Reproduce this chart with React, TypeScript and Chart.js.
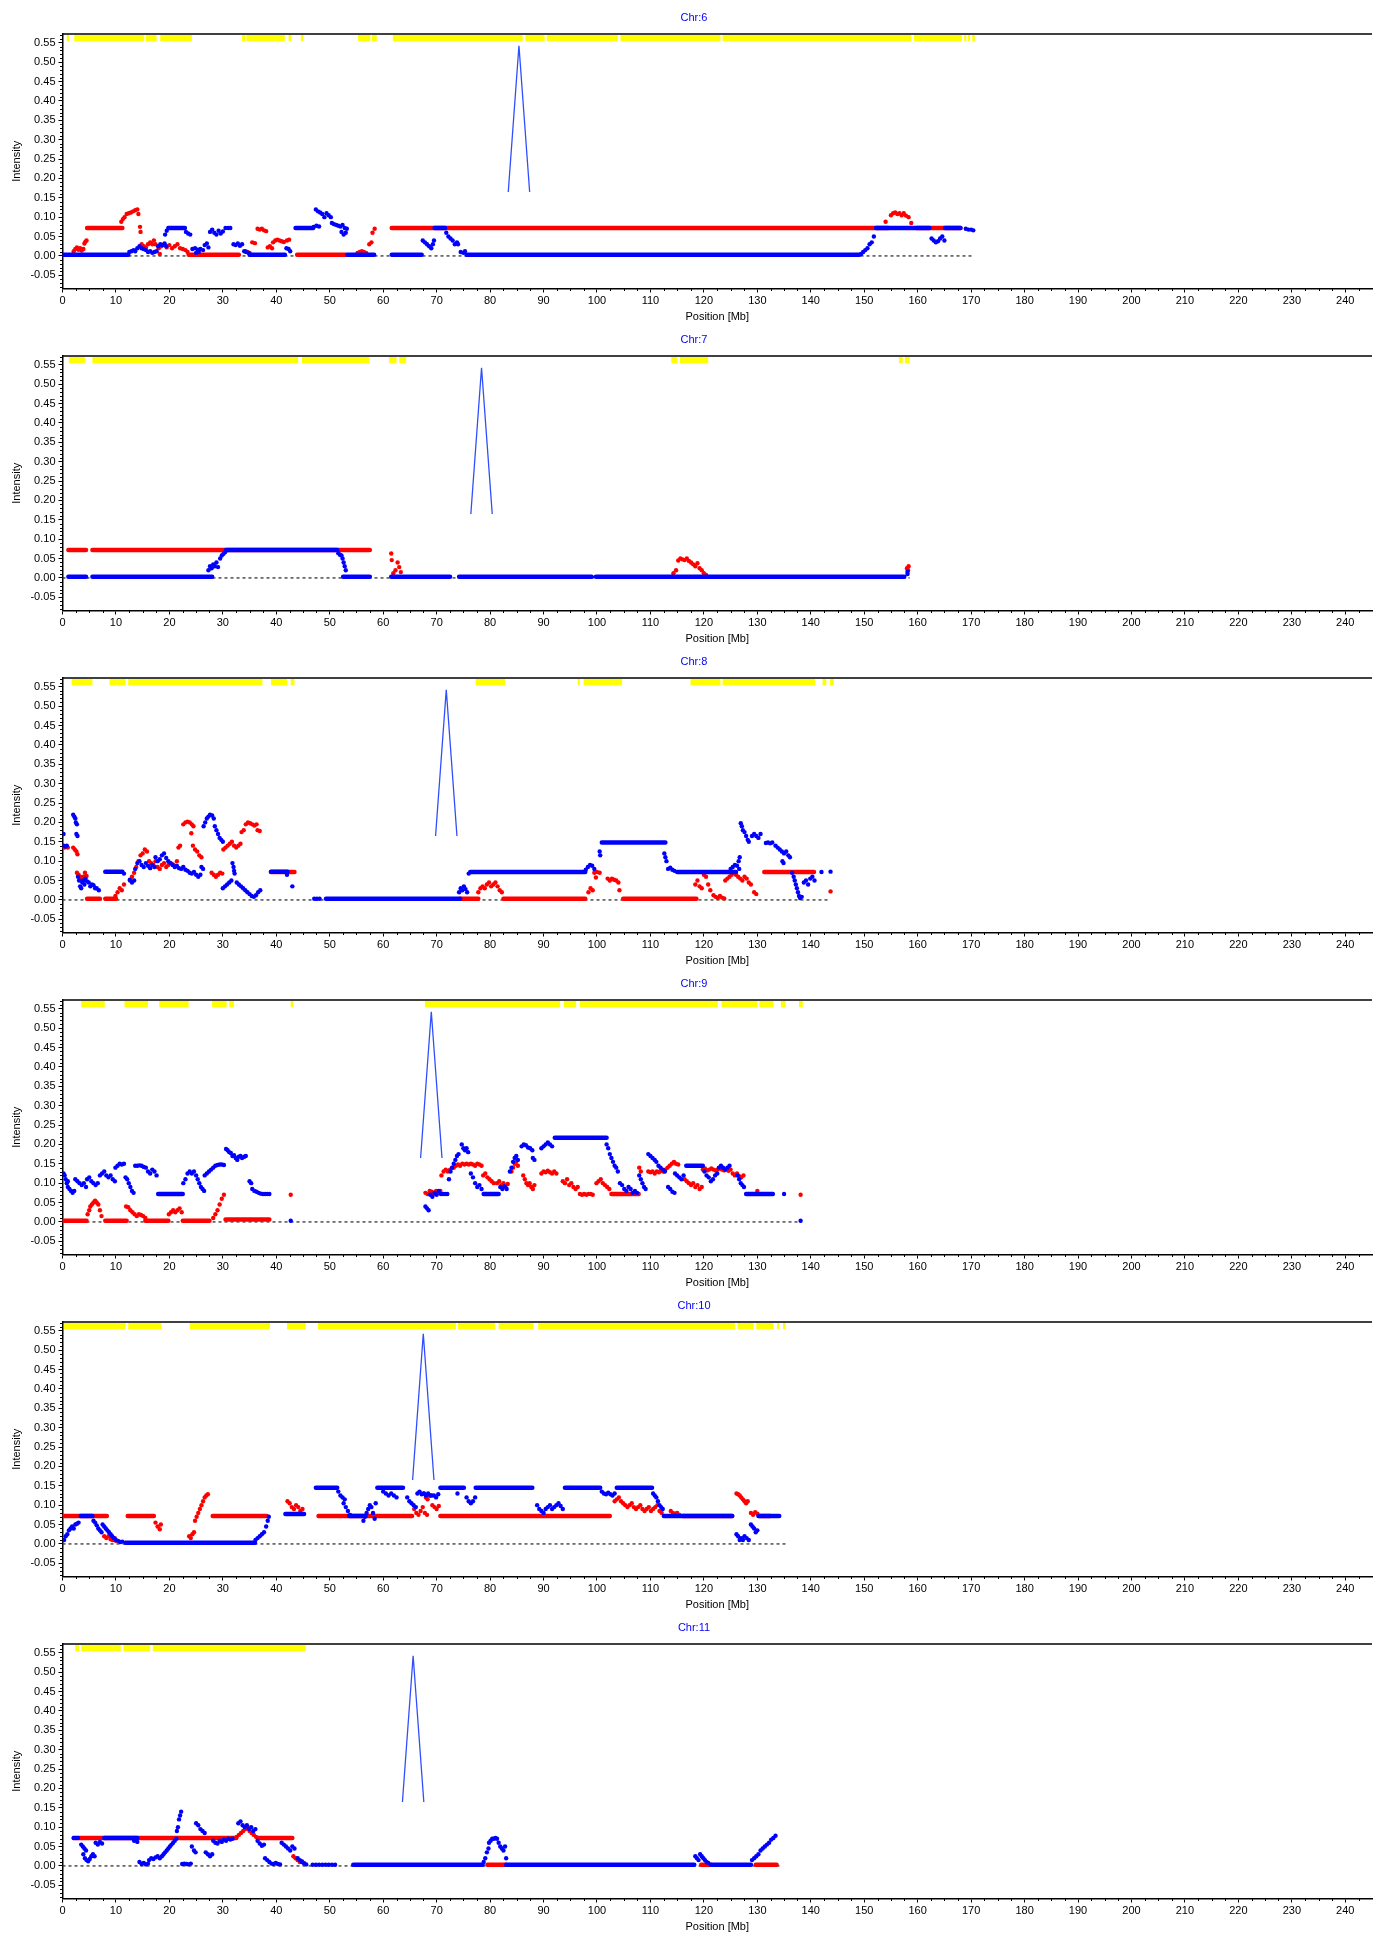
import React, { useEffect, useRef } from 'react';
import { Chart, registerables } from 'chart.js';

Chart.register(...registerables);

type Pt = [number, number];
type Seg = [number, number];
type Run = [number, number, number];

// Copy-number levels used by the flat segments
const L0 = 0.003;
const L1 = 0.072;
const L2 = 0.145;
const L3 = 0.217;

const X_TICKS = [0, 10, 20, 30, 40, 50, 60, 70, 80, 90, 100, 110, 120, 130, 140, 150, 160, 170, 180, 190, 200, 210, 220, 230, 240];
const Y_TICKS = [-0.05, 0, 0.05, 0.1, 0.15, 0.2, 0.25, 0.3, 0.35, 0.4, 0.45, 0.5, 0.55];
const X_MAX = 245;
const Y_MIN = -0.084;
const Y_MAX = 0.5725;
const BAND_Y = 0.562;

// ---------------- Chr 6 ----------------
const chr6Length = 170.5;
const chr6Centromere: Pt[] = [[83.4, 0.165], [85.4, 0.542], [87.4, 0.165]];
const chr6Bands: Seg[] = [[0.8, 1.2], [2.2, 15.3], [15.6, 17.6], [18.3, 24.2], [33.6, 34.2], [34.4, 41.6], [42.3, 42.8], [44.6, 45.1], [55.3, 57.6], [57.9, 58.8], [61.8, 86.1], [86.6, 90.2], [90.6, 103.9], [104.4, 123.1], [123.5, 158.8], [159.3, 168.3], [168.7, 169.1], [169.4, 169.8], [170.2, 170.7]];
const chr6RedRuns: Run[] = [[4.6, 11.2, L1], [23.6, 33.0, L0], [43.9, 53.0, L0], [61.6, 154.5, L1], [159.8, 168.0, L1]];
const chr6RedDots: Pt[] = [
  [2.1, 0.012], [2.4, 0.018], [2.7, 0.022], [3.0, 0.016], [3.3, 0.02], [3.6, 0.014], [3.9, 0.018], [4.1, 0.032], [4.3, 0.037], [4.5, 0.04],
  [11.0, 0.088], [11.3, 0.095], [11.6, 0.1], [12.0, 0.108], [12.4, 0.11], [12.8, 0.112], [13.2, 0.115], [13.6, 0.118], [14.0, 0.12], [14.2, 0.108],
  [14.5, 0.075], [14.6, 0.062], [14.8, 0.03], [15.2, 0.025], [15.6, 0.022], [16.0, 0.03], [16.4, 0.035], [16.8, 0.03], [17.1, 0.04], [17.4, 0.03],
  [18.0, 0.02], [18.2, 0.005], [18.5, 0.025], [19.0, 0.03], [19.5, 0.022], [20.0, 0.028], [20.5, 0.02], [21.0, 0.025], [21.5, 0.03], [22.0, 0.02], [22.5, 0.018], [23.0, 0.015], [23.4, 0.01],
  [34.2, 0.012], [34.6, 0.01], [35.0, 0.008], [35.5, 0.035], [36.0, 0.033], [36.5, 0.07], [36.9, 0.068], [37.3, 0.07], [37.7, 0.066], [38.1, 0.064],
  [38.4, 0.022], [38.8, 0.025], [39.2, 0.02], [39.4, 0.035], [39.8, 0.04], [40.2, 0.042], [40.6, 0.04], [41.0, 0.038], [41.4, 0.036], [42.0, 0.04], [42.4, 0.042],
  [55.2, 0.008], [55.6, 0.01], [56.0, 0.012], [56.4, 0.01], [56.8, 0.008], [57.4, 0.03], [57.8, 0.035], [58.0, 0.06], [58.4, 0.07],
  [154.0, 0.088], [155.0, 0.105], [155.4, 0.11], [155.8, 0.112], [156.2, 0.108], [156.6, 0.11], [157.0, 0.105], [157.4, 0.11], [157.8, 0.104], [158.3, 0.1], [158.8, 0.085],
];
const chr6BlueRuns: Run[] = [[0, 12.3, L0], [19.8, 22.9, L1], [35.0, 41.6, L0], [43.6, 46.9, L1], [53.3, 58.3, L0], [61.6, 67.2, L0], [69.6, 71.6, L1], [75.6, 149.1, L0], [152.2, 162.2, L1], [165.1, 168.0, L1]];
const chr6BlueDots: Pt[] = [
  [12.5, 0.01], [12.9, 0.012], [13.3, 0.015], [13.6, 0.012], [14.0, 0.02], [14.4, 0.025], [14.8, 0.02], [15.2, 0.018], [15.6, 0.015], [16.0, 0.01], [16.4, 0.012], [16.8, 0.008], [17.2, 0.01], [17.6, 0.012],
  [17.9, 0.025], [18.3, 0.03], [18.7, 0.028], [19.1, 0.032], [19.4, 0.025], [19.2, 0.055], [19.5, 0.065],
  [23.1, 0.062], [23.5, 0.058], [23.9, 0.055], [24.3, 0.018], [24.8, 0.02], [25.3, 0.016], [25.8, 0.018], [26.3, 0.015], [25.0, 0.008], [25.5, 0.01],
  [26.6, 0.028], [27.0, 0.032], [27.3, 0.022], [27.6, 0.062], [28.0, 0.068], [28.4, 0.06], [28.8, 0.055], [29.2, 0.065], [29.6, 0.058], [30.0, 0.063],
  [30.5, 0.072], [31.0, 0.072], [31.4, 0.072], [32.0, 0.03], [32.4, 0.028], [32.8, 0.032], [33.2, 0.026], [33.6, 0.03], [34.0, 0.012], [34.4, 0.01], [34.8, 0.008],
  [41.9, 0.02], [42.3, 0.018], [42.6, 0.012], [47.0, 0.075], [47.5, 0.078], [48.0, 0.076],
  [47.4, 0.12], [47.8, 0.115], [48.2, 0.112], [48.6, 0.108], [49.0, 0.1], [49.4, 0.11], [49.8, 0.105], [50.2, 0.1],
  [50.4, 0.085], [50.8, 0.082], [51.2, 0.08], [51.6, 0.078], [52.0, 0.076], [52.4, 0.08], [52.8, 0.072], [53.2, 0.07], [52.2, 0.062], [52.6, 0.055], [53.0, 0.06],
  [67.4, 0.04], [67.8, 0.035], [68.2, 0.03], [68.6, 0.025], [69.0, 0.02], [69.3, 0.03], [69.5, 0.04],
  [71.8, 0.06], [72.2, 0.05], [72.6, 0.045], [73.0, 0.04], [73.4, 0.03], [73.8, 0.035], [74.0, 0.03], [74.5, 0.01], [75.0, 0.008], [75.3, 0.012],
  [149.4, 0.005], [149.8, 0.01], [150.2, 0.015], [150.6, 0.02], [151.0, 0.03], [151.4, 0.035], [151.8, 0.05],
  [162.6, 0.045], [163.0, 0.04], [163.4, 0.035], [163.8, 0.038], [164.2, 0.045], [164.6, 0.05], [165.0, 0.04],
  [169.0, 0.07], [169.5, 0.068], [170.0, 0.068], [170.4, 0.066],
];

// ---------------- Chr 7 ----------------
const chr7Length = 158.5;
const chr7Centromere: Pt[] = [[76.4, 0.165], [78.4, 0.542], [80.4, 0.165]];
const chr7Bands: Seg[] = [[1.2, 4.2], [5.6, 44.1], [44.8, 57.4], [61.1, 62.5], [63.0, 64.3], [113.9, 115.0], [115.5, 120.8], [156.5, 157.2], [157.6, 158.5]];
const chr7RedRuns: Run[] = [[1.1, 4.4, L1], [5.6, 57.5, L1]];
const chr7RedDots: Pt[] = [
  [61.5, 0.063], [61.6, 0.046], [61.9, 0.012], [62.3, 0.02], [62.7, 0.04], [63.0, 0.028], [63.3, 0.015],
  [114.3, 0.012], [114.8, 0.02], [115.2, 0.045], [115.6, 0.05], [116.0, 0.048], [116.4, 0.046], [116.8, 0.05], [117.2, 0.044], [117.6, 0.04], [118.0, 0.035], [118.4, 0.03], [118.8, 0.038], [119.2, 0.025], [119.6, 0.02], [120.0, 0.012], [120.4, 0.008],
  [158.0, 0.025], [158.2, 0.02], [158.3, 0.03],
];
const chr7BlueRuns: Run[] = [[1.1, 4.4, L0], [5.6, 28.0, L0], [30.6, 51.4, L1], [52.5, 57.5, L0], [61.5, 72.5, L0], [74.2, 99.0, L0], [99.8, 157.5, L0]];
const chr7BlueDots: Pt[] = [
  [27.3, 0.02], [27.6, 0.03], [27.9, 0.025], [28.2, 0.035], [28.5, 0.03], [28.8, 0.04], [29.1, 0.028], [29.5, 0.05], [29.8, 0.058], [30.1, 0.062], [30.4, 0.066],
  [51.6, 0.064], [51.9, 0.06], [52.2, 0.058], [52.4, 0.05], [52.6, 0.04], [52.8, 0.03], [53.0, 0.02],
  [158.1, 0.01], [158.1, 0.016],
];

// ---------------- Chr 8 ----------------
const chr8Length = 143.7;
const chr8Centromere: Pt[] = [[69.8, 0.165], [71.8, 0.542], [73.8, 0.165]];
const chr8Bands: Seg[] = [[1.7, 5.6], [8.8, 11.8], [12.3, 37.4], [39.0, 42.0], [42.7, 43.4], [77.3, 82.8], [96.4, 96.8], [97.5, 104.7], [117.5, 123.1], [123.5, 140.8], [142.2, 142.9], [143.6, 144.3]];
const chr8RedRuns: Run[] = [[4.6, 7.0, L0], [8.0, 10.0, L0], [39.0, 43.4, L1], [74.4, 77.8, L0], [82.5, 97.8, L0], [104.9, 118.6, L0], [131.3, 140.6, L1]];
const chr8RedDots: Pt[] = [
  [0.1, 0.138], [0.4, 0.135], [0.7, 0.138], [1.0, 0.135], [2.0, 0.135], [2.3, 0.13], [2.6, 0.125], [2.8, 0.118],
  [2.7, 0.07], [3.0, 0.065], [3.3, 0.06], [3.6, 0.055], [3.9, 0.06], [4.2, 0.07], [4.5, 0.062],
  [9.9, 0.01], [10.3, 0.02], [10.7, 0.03], [11.1, 0.025], [11.5, 0.04],
  [12.6, 0.05], [13.0, 0.06], [13.4, 0.07], [13.8, 0.085], [14.2, 0.1], [14.6, 0.115], [15.0, 0.12], [15.4, 0.13], [15.8, 0.125],
  [16.2, 0.1], [16.6, 0.095], [17.0, 0.09], [17.4, 0.1], [17.8, 0.085], [18.2, 0.08], [18.6, 0.09], [19.0, 0.095], [19.4, 0.085], [19.8, 0.09], [20.2, 0.095], [20.6, 0.092], [21.0, 0.088], [21.4, 0.1],
  [21.7, 0.135], [22.0, 0.14], [22.6, 0.195], [23.0, 0.2], [23.4, 0.202], [23.8, 0.2], [24.2, 0.195], [24.5, 0.19], [24.1, 0.172],
  [24.4, 0.14], [24.8, 0.13], [25.2, 0.125], [25.6, 0.115], [26.0, 0.11],
  [27.9, 0.07], [28.3, 0.065], [28.7, 0.06], [29.1, 0.065], [29.5, 0.07], [29.9, 0.068],
  [30.1, 0.13], [30.5, 0.135], [30.9, 0.14], [31.3, 0.145], [31.7, 0.15], [32.1, 0.14], [32.5, 0.135], [32.9, 0.14], [33.3, 0.145],
  [33.5, 0.175], [33.9, 0.18], [34.3, 0.195], [34.7, 0.2], [35.1, 0.198], [35.5, 0.195], [35.9, 0.192], [36.3, 0.195], [36.5, 0.18], [36.9, 0.178],
  [77.8, 0.02], [78.2, 0.03], [78.6, 0.035], [79.0, 0.03], [79.4, 0.04], [79.8, 0.045], [80.2, 0.035], [80.6, 0.04], [81.0, 0.045], [81.4, 0.035], [81.8, 0.025], [82.2, 0.02],
  [98.4, 0.02], [98.8, 0.03], [99.2, 0.025], [99.5, 0.07], [100.0, 0.072], [100.5, 0.07], [99.8, 0.058],
  [102.0, 0.055], [102.4, 0.05], [102.8, 0.055], [103.2, 0.052], [103.6, 0.05], [104.0, 0.045], [104.2, 0.025],
  [118.4, 0.04], [118.8, 0.05], [119.2, 0.035], [119.6, 0.03], [120.0, 0.065], [120.4, 0.06], [120.8, 0.04], [121.2, 0.025],
  [121.8, 0.012], [122.2, 0.008], [122.6, 0.005], [123.0, 0.01], [123.4, 0.006], [123.8, 0.004],
  [124.0, 0.05], [124.4, 0.055], [124.8, 0.06], [125.2, 0.065], [125.6, 0.07], [126.0, 0.065], [126.4, 0.06], [126.8, 0.055], [127.2, 0.05], [127.6, 0.06], [128.0, 0.055], [128.4, 0.045], [128.8, 0.04],
  [129.4, 0.02], [129.8, 0.015], [143.7, 0.022],
];
const chr8BlueRuns: Run[] = [[8.0, 11.2, 0.073], [39.0, 42.1, 0.073], [49.3, 74.4, L0], [76.3, 97.8, L1], [100.9, 112.8, 0.148], [115.0, 126.0, L1]];
const chr8BlueDots: Pt[] = [
  [0.2, 0.14], [0.5, 0.138], [0.8, 0.14], [0.2, 0.17],
  [2.0, 0.22], [2.2, 0.215], [2.4, 0.21], [2.5, 0.2], [2.7, 0.195], [2.6, 0.17], [2.8, 0.165],
  [2.9, 0.06], [3.1, 0.05], [3.3, 0.035], [3.5, 0.03], [3.7, 0.045], [3.9, 0.05], [4.1, 0.04], [4.3, 0.055], [4.6, 0.048], [4.9, 0.045], [5.2, 0.035], [5.5, 0.04], [5.8, 0.038], [6.1, 0.03], [6.4, 0.03], [6.8, 0.025],
  [11.5, 0.068], [12.6, 0.052], [13.0, 0.045], [13.4, 0.05],
  [13.6, 0.08], [14.0, 0.095], [14.4, 0.1], [14.8, 0.09], [15.2, 0.085], [15.6, 0.095], [16.0, 0.088], [16.4, 0.082], [16.8, 0.09], [17.2, 0.085],
  [17.4, 0.11], [17.8, 0.1], [18.2, 0.105], [18.6, 0.115], [19.0, 0.12], [19.4, 0.108], [19.8, 0.1], [20.2, 0.095],
  [20.6, 0.09], [21.0, 0.085], [21.4, 0.088], [21.8, 0.082], [22.2, 0.08], [22.6, 0.085], [23.0, 0.078], [23.4, 0.075], [23.8, 0.07], [24.2, 0.068], [24.6, 0.072], [25.0, 0.065], [25.4, 0.06], [25.8, 0.065],
  [26.0, 0.085], [26.3, 0.08],
  [26.4, 0.19], [26.7, 0.2], [27.0, 0.21], [27.3, 0.215], [27.6, 0.22], [28.0, 0.218], [28.3, 0.21],
  [28.5, 0.19], [28.8, 0.18], [29.1, 0.17], [29.4, 0.16], [29.7, 0.155], [30.0, 0.15],
  [31.8, 0.095], [32.0, 0.085], [32.1, 0.075], [32.2, 0.068],
  [30.0, 0.03], [30.4, 0.035], [30.8, 0.04], [31.2, 0.045], [31.6, 0.05],
  [32.6, 0.045], [33.0, 0.04], [33.4, 0.035], [33.8, 0.03], [34.2, 0.025], [34.6, 0.02], [35.0, 0.015], [35.4, 0.01], [35.8, 0.008], [36.2, 0.012], [36.6, 0.02], [37.0, 0.025],
  [42.0, 0.065], [43.0, 0.035], [47.1, 0.003], [47.6, 0.003], [48.1, 0.003],
  [74.2, 0.02], [74.5, 0.03], [74.8, 0.025], [75.1, 0.035], [75.4, 0.028], [75.7, 0.02], [76.0, 0.068],
  [97.9, 0.078], [98.3, 0.085], [98.7, 0.09], [99.1, 0.088], [99.5, 0.08], [100.5, 0.125], [100.6, 0.115],
  [112.6, 0.12], [112.8, 0.11], [113.0, 0.1], [113.3, 0.08], [113.7, 0.083], [114.1, 0.078], [114.5, 0.075],
  [125.0, 0.08], [125.4, 0.085], [125.8, 0.09], [126.2, 0.088], [126.6, 0.08], [126.5, 0.1], [126.7, 0.11],
  [126.9, 0.198], [127.1, 0.19], [127.3, 0.18], [127.6, 0.175], [127.9, 0.165], [128.2, 0.155], [128.4, 0.15],
  [129.0, 0.165], [129.4, 0.17], [129.8, 0.165], [130.2, 0.16], [130.6, 0.17],
  [131.6, 0.147], [132.0, 0.148], [132.4, 0.146], [132.8, 0.148],
  [133.4, 0.14], [133.8, 0.135], [134.2, 0.13], [134.6, 0.125], [135.0, 0.12], [135.4, 0.125], [135.8, 0.115], [136.1, 0.11], [134.7, 0.1], [134.9, 0.095],
  [136.5, 0.07], [136.8, 0.06], [137.0, 0.05], [137.2, 0.04], [137.4, 0.03], [137.6, 0.02], [137.8, 0.01], [138.0, 0.005], [138.3, 0.008],
  [138.7, 0.045], [139.1, 0.05], [139.5, 0.04], [139.9, 0.055], [140.3, 0.06], [140.7, 0.05],
  [142.0, 0.072], [143.7, 0.073],
];

// ---------------- Chr 9 ----------------
const chr9Length = 138.3;
const chr9Centromere: Pt[] = [[67.0, 0.165], [69.0, 0.542], [71.0, 0.165]];
const chr9Bands: Seg[] = [[3.5, 7.9], [11.6, 16.0], [18.1, 23.6], [28.0, 30.7], [31.2, 32.1], [42.7, 43.2], [67.8, 93.1], [93.8, 96.1], [96.8, 122.6], [123.3, 130.0], [130.4, 133.0], [134.4, 135.3], [137.8, 138.5]];
const chr9RedRuns: Run[] = [[0.2, 4.5, L0], [8.0, 12.0, L0], [15.5, 19.8, L0], [22.5, 27.5, L0], [30.5, 38.7, 0.006], [102.7, 107.8, L1]];
const chr9RedDots: Pt[] = [
  [4.7, 0.02], [5.0, 0.03], [5.2, 0.04], [5.5, 0.045], [5.8, 0.05], [6.1, 0.055], [6.4, 0.05], [6.7, 0.045], [7.0, 0.03], [7.3, 0.015],
  [11.9, 0.04], [12.3, 0.038], [12.7, 0.03], [13.1, 0.025], [13.5, 0.02], [13.9, 0.015], [14.3, 0.02], [14.7, 0.018], [15.1, 0.015], [15.5, 0.01],
  [19.9, 0.02], [20.3, 0.025], [20.7, 0.03], [21.1, 0.025], [21.5, 0.03], [21.9, 0.035], [22.3, 0.025],
  [28.2, 0.01], [28.6, 0.02], [29.0, 0.03], [29.4, 0.045], [29.8, 0.06], [30.2, 0.07], [42.7, 0.07],
  [67.9, 0.075], [68.3, 0.072], [68.7, 0.08], [69.1, 0.078], [69.5, 0.072], [69.9, 0.08], [70.3, 0.075], [70.7, 0.08],
  [70.9, 0.12], [71.3, 0.13], [71.7, 0.135], [72.1, 0.13], [72.5, 0.135], [72.9, 0.14],
  [73.2, 0.14], [73.6, 0.145], [74.0, 0.148], [74.4, 0.145], [74.8, 0.15], [75.2, 0.148], [75.6, 0.15], [76.0, 0.148], [76.4, 0.15], [76.8, 0.148], [77.2, 0.145], [77.6, 0.15], [78.0, 0.148], [78.4, 0.145],
  [78.7, 0.12], [79.1, 0.125], [79.5, 0.115], [79.9, 0.11], [80.3, 0.105], [80.7, 0.1],
  [81.3, 0.1], [81.7, 0.105], [82.1, 0.095], [82.5, 0.1], [82.9, 0.09], [83.3, 0.098],
  [84.0, 0.13], [84.3, 0.14], [84.6, 0.15], [84.9, 0.155], [85.2, 0.145],
  [86.2, 0.12], [86.5, 0.11], [86.8, 0.1], [87.1, 0.095], [87.4, 0.1], [87.7, 0.09], [88.0, 0.085], [88.3, 0.095],
  [89.6, 0.125], [90.0, 0.13], [90.4, 0.128], [90.8, 0.132], [91.2, 0.128], [91.6, 0.125], [92.0, 0.13], [92.4, 0.125],
  [93.6, 0.105], [94.0, 0.1], [94.4, 0.11], [94.8, 0.095], [95.2, 0.1], [95.6, 0.09], [96.0, 0.085], [96.4, 0.09],
  [96.8, 0.072], [97.2, 0.07], [97.6, 0.072], [98.0, 0.07], [98.4, 0.072], [98.8, 0.072], [99.2, 0.07],
  [99.9, 0.1], [100.3, 0.105], [100.7, 0.11], [101.1, 0.1], [101.5, 0.095], [101.9, 0.09], [102.3, 0.085],
  [107.9, 0.14], [108.2, 0.13],
  [109.6, 0.13], [110.0, 0.128], [110.4, 0.13], [110.8, 0.125], [111.2, 0.13], [111.6, 0.128], [112.0, 0.132], [112.4, 0.13], [112.8, 0.135], [113.2, 0.14], [113.6, 0.145], [114.0, 0.15], [114.4, 0.155], [114.8, 0.15], [115.2, 0.148],
  [116.4, 0.11], [116.8, 0.105], [117.2, 0.1], [117.6, 0.095], [118.0, 0.1], [118.4, 0.09], [118.8, 0.095], [119.2, 0.085], [119.6, 0.09],
  [119.8, 0.135], [120.2, 0.138], [120.6, 0.133], [121.0, 0.135], [121.4, 0.138], [121.8, 0.135], [122.2, 0.133], [122.6, 0.135], [123.0, 0.138], [123.4, 0.135], [123.8, 0.133], [124.2, 0.135], [124.6, 0.132], [125.0, 0.135],
  [125.4, 0.125], [125.8, 0.12], [126.2, 0.125], [126.6, 0.118], [127.0, 0.115], [127.4, 0.12],
  [130.0, 0.08], [138.1, 0.07],
];
const chr9BlueRuns: Run[] = [[17.9, 22.5, L1], [78.8, 81.6, L1], [92.1, 101.8, L3], [116.7, 119.8, L2], [127.9, 132.9, L1]];
const chr9BlueDots: Pt[] = [
  [0.2, 0.125], [0.4, 0.12], [0.6, 0.11], [0.8, 0.1], [1.0, 0.105], [1.0, 0.09], [1.3, 0.085], [1.6, 0.08], [1.9, 0.075], [2.2, 0.08],
  [2.4, 0.11], [2.8, 0.105], [3.2, 0.1], [3.6, 0.095], [4.0, 0.1], [4.4, 0.09],
  [4.6, 0.11], [5.0, 0.115], [5.4, 0.105], [5.8, 0.1], [6.2, 0.095], [6.6, 0.1],
  [7.0, 0.12], [7.4, 0.125], [7.8, 0.13], [8.2, 0.12], [8.6, 0.115], [9.0, 0.12], [9.4, 0.11], [9.8, 0.105],
  [9.9, 0.14], [10.3, 0.145], [10.7, 0.15], [11.1, 0.148], [11.5, 0.15],
  [11.8, 0.115], [12.1, 0.11], [12.4, 0.1], [12.7, 0.09], [13.0, 0.08], [13.3, 0.075],
  [13.6, 0.145], [14.0, 0.145], [14.4, 0.146], [14.8, 0.145], [15.2, 0.142], [15.6, 0.14],
  [16.0, 0.13], [16.4, 0.125], [16.8, 0.135], [17.2, 0.13], [17.6, 0.12],
  [22.6, 0.1], [23.0, 0.11], [23.4, 0.125], [23.8, 0.13], [24.2, 0.125], [24.6, 0.13], [25.0, 0.12],
  [25.3, 0.11], [25.6, 0.1], [25.9, 0.09], [26.2, 0.085], [26.5, 0.08],
  [26.6, 0.12], [27.0, 0.125], [27.4, 0.13], [27.8, 0.135], [28.2, 0.14], [28.6, 0.145], [29.0, 0.147], [29.4, 0.148], [29.8, 0.148], [30.2, 0.147],
  [30.6, 0.188], [30.9, 0.185], [31.2, 0.18], [31.5, 0.178], [31.8, 0.17], [32.1, 0.172], [32.4, 0.165], [32.7, 0.16], [33.0, 0.168], [33.3, 0.17], [33.6, 0.165], [34.0, 0.168], [34.3, 0.17],
  [35.0, 0.105], [35.3, 0.1], [35.5, 0.085], [35.9, 0.08], [36.3, 0.078], [36.7, 0.075], [37.1, 0.073], [37.5, 0.072], [37.9, 0.072], [38.3, 0.072], [38.7, 0.072],
  [42.7, 0.003],
  [67.9, 0.04], [68.2, 0.035], [68.5, 0.03],
  [68.8, 0.07], [69.2, 0.065], [69.6, 0.075], [70.0, 0.07], [70.4, 0.08], [70.8, 0.072], [71.2, 0.072], [71.6, 0.072], [72.0, 0.072], [72.3, 0.11],
  [72.6, 0.13], [72.9, 0.14], [73.2, 0.15], [73.5, 0.16], [73.8, 0.17], [74.1, 0.175],
  [74.7, 0.2], [75.0, 0.19], [75.3, 0.185], [75.6, 0.19], [75.9, 0.18],
  [76.4, 0.125], [76.8, 0.115], [77.2, 0.1], [77.6, 0.09], [78.0, 0.095], [78.4, 0.085],
  [81.9, 0.09], [82.3, 0.085], [82.7, 0.092], [83.1, 0.085],
  [83.7, 0.13], [84.0, 0.14], [84.3, 0.155], [84.6, 0.165], [84.9, 0.17], [85.2, 0.16],
  [85.9, 0.195], [86.3, 0.2], [86.7, 0.198], [87.1, 0.192], [87.5, 0.19], [87.9, 0.185], [88.0, 0.165], [88.3, 0.16],
  [89.6, 0.19], [90.0, 0.195], [90.4, 0.2], [90.8, 0.205], [91.2, 0.2], [91.6, 0.195],
  [101.8, 0.2], [102.1, 0.19], [102.4, 0.175], [102.7, 0.165], [103.0, 0.155], [103.3, 0.145], [103.6, 0.14], [103.9, 0.13],
  [104.3, 0.1], [104.7, 0.095], [105.1, 0.085], [105.5, 0.08], [105.9, 0.09], [106.3, 0.085], [106.7, 0.075], [107.1, 0.08], [107.5, 0.075],
  [107.9, 0.12], [108.2, 0.11], [108.5, 0.1], [108.8, 0.09], [109.1, 0.085],
  [109.6, 0.175], [110.0, 0.17], [110.4, 0.165], [110.8, 0.16],
  [111.1, 0.155], [111.5, 0.145], [111.9, 0.14], [112.3, 0.135], [112.7, 0.13],
  [113.3, 0.09], [113.7, 0.085], [114.1, 0.078], [114.5, 0.075],
  [114.6, 0.125], [115.0, 0.12], [115.4, 0.115], [115.8, 0.11], [116.2, 0.12],
  [120.1, 0.13], [120.5, 0.12], [120.9, 0.115], [121.3, 0.105], [121.7, 0.11], [122.1, 0.12], [122.5, 0.125],
  [122.8, 0.14], [123.2, 0.145], [123.6, 0.14], [124.0, 0.135], [124.4, 0.14], [124.8, 0.145],
  [126.3, 0.12], [126.6, 0.11], [126.9, 0.1], [127.2, 0.095], [127.5, 0.09],
  [135.0, 0.072], [138.1, 0.003],
];

// ---------------- Chr 10 ----------------
const chr10Length = 135.3;
const chr10Centromere: Pt[] = [[65.5, 0.165], [67.5, 0.542], [69.5, 0.165]];
const chr10Bands: Seg[] = [[0.3, 11.8], [12.3, 18.5], [23.8, 38.8], [42.0, 45.5], [47.8, 73.6], [74.0, 80.9], [81.6, 88.1], [89.0, 125.8], [126.3, 129.3], [129.8, 133.0], [133.7, 134.1], [134.8, 135.3]];
const chr10RedRuns: Run[] = [[0.3, 8.3, L1], [12.2, 17.1, L1], [28.1, 38.2, L1], [47.9, 65.4, L1], [70.7, 102.4, L1], [116.0, 125.3, L1], [130.6, 132.4, L1]];
const chr10RedDots: Pt[] = [
  [7.8, 0.02], [8.2, 0.015], [8.6, 0.02], [9.0, 0.012], [9.4, 0.01], [9.8, 0.015], [10.0, 0.008],
  [17.4, 0.055], [17.8, 0.045], [18.2, 0.038], [18.4, 0.05],
  [23.7, 0.02], [24.0, 0.015], [24.3, 0.025], [24.6, 0.03],
  [24.8, 0.06], [25.1, 0.07], [25.4, 0.08], [25.7, 0.09], [26.0, 0.1], [26.3, 0.11], [26.6, 0.12], [26.9, 0.125], [27.2, 0.128],
  [42.1, 0.11], [42.5, 0.105], [42.9, 0.095], [43.3, 0.09], [43.7, 0.1], [44.1, 0.095], [44.5, 0.085], [44.9, 0.09],
  [65.8, 0.09], [66.2, 0.08], [66.6, 0.075], [67.0, 0.085], [67.4, 0.095], [67.8, 0.08], [68.2, 0.075],
  [67.6, 0.13], [68.0, 0.12], [68.3, 0.115], [68.7, 0.125], [69.2, 0.1], [69.6, 0.095], [70.0, 0.09], [70.4, 0.098],
  [103.3, 0.11], [103.7, 0.115], [104.1, 0.12], [104.5, 0.11], [104.9, 0.105], [105.3, 0.1], [105.7, 0.095], [106.1, 0.1], [106.5, 0.105], [106.9, 0.095], [107.3, 0.09], [107.7, 0.095],
  [108.1, 0.1], [108.5, 0.09], [108.9, 0.085], [109.3, 0.09], [109.7, 0.095], [110.1, 0.085], [110.5, 0.09], [110.9, 0.095], [111.3, 0.1], [111.7, 0.085], [112.1, 0.08],
  [113.8, 0.085], [114.2, 0.08], [114.6, 0.078], [115.0, 0.08], [115.4, 0.075],
  [126.1, 0.13], [126.4, 0.128], [126.7, 0.125], [127.0, 0.12], [127.3, 0.115], [127.6, 0.11], [127.9, 0.105], [128.2, 0.11],
  [128.8, 0.08], [129.2, 0.075], [129.6, 0.082], [130.0, 0.078], [130.4, 0.072],
];
const chr10BlueRuns: Run[] = [[3.4, 5.6, L1], [11.8, 36.0, L0], [41.7, 45.2, 0.077], [47.4, 51.4, L2], [53.6, 56.7, L1], [58.9, 63.7, L2], [70.7, 75.1, L2], [77.3, 87.9, L2], [94.0, 100.6, L2], [103.7, 110.3, L2], [112.5, 125.3, L1], [130.2, 134.1, L1]];
const chr10BlueDots: Pt[] = [
  [0.3, 0.01], [0.6, 0.02], [0.9, 0.025], [1.2, 0.035], [1.5, 0.04], [1.8, 0.045], [2.1, 0.04], [2.4, 0.05], [2.7, 0.052], [3.0, 0.055],
  [5.8, 0.06], [6.1, 0.055], [6.4, 0.048], [6.7, 0.04], [7.0, 0.035], [7.3, 0.03],
  [7.5, 0.05], [7.8, 0.045], [8.1, 0.04], [8.4, 0.035], [8.7, 0.03], [9.0, 0.025], [9.3, 0.02], [9.6, 0.015],
  [10.0, 0.01], [10.4, 0.008], [10.8, 0.005], [11.2, 0.006],
  [36.1, 0.01], [36.5, 0.015], [36.9, 0.02], [37.3, 0.025], [37.7, 0.03], [38.1, 0.045], [38.4, 0.06], [38.6, 0.07],
  [51.6, 0.135], [52.0, 0.125], [52.4, 0.12], [52.8, 0.115], [52.6, 0.105], [53.0, 0.095], [53.4, 0.085], [53.8, 0.075],
  [56.3, 0.06], [56.6, 0.07], [56.9, 0.08], [57.2, 0.09], [57.5, 0.1], [57.8, 0.095], [58.1, 0.08], [58.4, 0.065], [58.6, 0.105],
  [60.0, 0.135], [60.5, 0.13], [61.0, 0.125], [61.5, 0.13], [62.0, 0.125], [62.5, 0.12],
  [64.5, 0.12], [64.9, 0.11], [65.3, 0.105], [65.7, 0.1], [66.1, 0.095],
  [66.4, 0.13], [66.8, 0.135], [67.2, 0.128], [67.6, 0.13], [68.0, 0.125], [68.4, 0.13], [68.8, 0.125],
  [69.1, 0.125], [69.5, 0.125], [69.9, 0.12], [70.3, 0.128], [73.9, 0.13],
  [75.6, 0.12], [76.0, 0.11], [76.4, 0.105], [76.8, 0.11], [77.2, 0.12],
  [88.8, 0.1], [89.2, 0.09], [89.6, 0.085], [90.0, 0.08], [90.4, 0.09], [90.8, 0.095], [91.2, 0.1], [91.6, 0.09], [92.0, 0.095], [92.4, 0.1], [92.8, 0.105], [93.2, 0.098], [93.6, 0.09],
  [100.9, 0.135], [101.3, 0.13], [101.7, 0.128], [102.1, 0.132], [102.5, 0.128], [102.9, 0.125], [103.3, 0.13],
  [110.5, 0.13], [110.8, 0.125], [111.1, 0.12], [111.4, 0.11], [111.7, 0.1], [112.0, 0.095], [112.3, 0.09],
  [126.1, 0.025], [126.4, 0.02], [126.7, 0.01], [127.0, 0.015], [127.3, 0.01], [127.6, 0.02], [128.0, 0.015], [128.4, 0.01],
  [128.8, 0.05], [129.1, 0.045], [129.4, 0.04], [129.7, 0.03], [130.0, 0.035],
];

// ---------------- Chr 11 ----------------
const chr11Length = 134.5;
const chr11Centromere: Pt[] = [[63.6, 0.165], [65.6, 0.542], [67.6, 0.165]];
const chr11Bands: Seg[] = [[2.4, 3.1], [3.5, 10.9], [11.4, 16.4], [16.9, 45.5]];
const chr11RedRuns: Run[] = [[2.1, 32.5, L1], [36.5, 43.0, L1], [79.5, 83.0, L0], [119.5, 121.3, L0], [129.7, 133.6, L0]];
const chr11RedDots: Pt[] = [
  [32.6, 0.075], [33.0, 0.08], [33.4, 0.085], [33.8, 0.09], [34.2, 0.095], [34.6, 0.1], [35.0, 0.09], [35.4, 0.085], [35.8, 0.08], [36.2, 0.075],
  [43.2, 0.025], [43.6, 0.02], [44.0, 0.015], [44.4, 0.01], [44.8, 0.012], [45.2, 0.008],
];
const chr11BlueRuns: Run[] = [[7.8, 14.0, L1], [54.4, 78.6, L0], [83.0, 118.2, L0], [121.3, 128.8, L0]];
const chr11BlueDots: Pt[] = [
  [2.1, 0.072], [2.5, 0.072], [2.9, 0.072],
  [3.5, 0.055], [3.8, 0.05], [4.1, 0.045], [4.4, 0.04],
  [3.9, 0.03], [4.2, 0.02], [4.5, 0.015], [4.8, 0.012], [5.1, 0.018], [5.4, 0.025], [5.7, 0.03], [6.0, 0.025],
  [6.2, 0.06], [6.6, 0.055], [7.0, 0.062], [7.4, 0.058], [13.4, 0.065], [14.0, 0.062],
  [14.4, 0.01], [14.8, 0.005], [15.2, 0.008], [15.6, 0.004], [16.0, 0.006],
  [16.2, 0.015], [16.6, 0.02], [17.0, 0.018], [17.4, 0.022], [17.8, 0.025], [18.2, 0.02], [18.6, 0.025],
  [18.9, 0.03], [19.2, 0.035], [19.5, 0.04], [19.8, 0.045], [20.1, 0.05], [20.4, 0.055], [20.7, 0.06], [21.0, 0.065], [21.3, 0.07],
  [21.4, 0.09], [21.6, 0.1], [21.8, 0.12], [22.0, 0.13], [22.2, 0.14],
  [22.4, 0.005], [22.8, 0.006], [23.2, 0.005], [23.6, 0.004], [24.0, 0.006],
  [24.2, 0.05], [24.6, 0.04], [24.9, 0.035],
  [25.0, 0.11], [25.4, 0.105], [25.8, 0.095], [26.2, 0.09], [26.6, 0.085],
  [26.8, 0.035], [27.2, 0.03], [27.6, 0.025], [28.0, 0.03],
  [28.2, 0.065], [28.6, 0.06], [29.0, 0.058], [29.4, 0.065], [29.8, 0.062], [30.2, 0.068], [30.6, 0.065], [31.0, 0.07], [31.4, 0.068], [31.8, 0.07],
  [32.9, 0.11], [33.3, 0.115], [33.7, 0.105], [34.1, 0.1], [34.5, 0.105], [34.9, 0.095], [35.3, 0.1], [35.7, 0.09], [36.1, 0.095],
  [36.5, 0.065], [36.9, 0.058], [37.3, 0.052], [37.7, 0.055],
  [37.9, 0.02], [38.3, 0.015], [38.7, 0.01], [39.1, 0.006], [39.5, 0.005], [39.9, 0.008], [40.3, 0.005], [40.7, 0.004],
  [41.0, 0.06], [41.4, 0.055], [41.8, 0.05], [42.2, 0.045], [42.6, 0.04], [43.0, 0.05], [43.4, 0.045],
  [44.0, 0.02], [44.4, 0.015], [44.8, 0.01], [45.2, 0.006], [45.6, 0.004],
  [46.8, 0.003], [47.4, 0.003], [48.0, 0.003], [48.6, 0.003], [49.2, 0.003], [49.8, 0.003], [50.4, 0.003], [51.0, 0.003],
  [78.8, 0.01], [79.1, 0.02], [79.4, 0.035], [79.7, 0.045],
  [79.8, 0.06], [80.1, 0.065], [80.4, 0.07], [80.7, 0.07], [81.0, 0.072], [81.3, 0.07], [81.6, 0.06], [81.9, 0.05], [82.2, 0.045], [82.5, 0.04], [82.8, 0.05], [83.0, 0.02],
  [118.4, 0.025], [118.7, 0.02], [119.0, 0.015], [119.3, 0.03], [119.6, 0.025], [119.9, 0.02], [120.2, 0.015], [120.5, 0.01], [120.8, 0.008],
  [129.0, 0.015], [129.4, 0.02], [129.8, 0.025], [130.2, 0.03], [130.6, 0.04], [131.0, 0.045], [131.4, 0.05], [131.8, 0.055], [132.2, 0.06], [132.6, 0.068], [133.0, 0.072], [133.4, 0.078],
];

interface Panel {
  title: string;
  length: number;
  centromere: Pt[];
  bands: Seg[];
  redRuns: Run[];
  redDots: Pt[];
  blueRuns: Run[];
  blueDots: Pt[];
}

const panels: Panel[] = [
  { title: 'Chr:6', length: chr6Length, centromere: chr6Centromere, bands: chr6Bands, redRuns: chr6RedRuns, redDots: chr6RedDots, blueRuns: chr6BlueRuns, blueDots: chr6BlueDots },
  { title: 'Chr:7', length: chr7Length, centromere: chr7Centromere, bands: chr7Bands, redRuns: chr7RedRuns, redDots: chr7RedDots, blueRuns: chr7BlueRuns, blueDots: chr7BlueDots },
  { title: 'Chr:8', length: chr8Length, centromere: chr8Centromere, bands: chr8Bands, redRuns: chr8RedRuns, redDots: chr8RedDots, blueRuns: chr8BlueRuns, blueDots: chr8BlueDots },
  { title: 'Chr:9', length: chr9Length, centromere: chr9Centromere, bands: chr9Bands, redRuns: chr9RedRuns, redDots: chr9RedDots, blueRuns: chr9BlueRuns, blueDots: chr9BlueDots },
  { title: 'Chr:10', length: chr10Length, centromere: chr10Centromere, bands: chr10Bands, redRuns: chr10RedRuns, redDots: chr10RedDots, blueRuns: chr10BlueRuns, blueDots: chr10BlueDots },
  { title: 'Chr:11', length: chr11Length, centromere: chr11Centromere, bands: chr11Bands, redRuns: chr11RedRuns, redDots: chr11RedDots, blueRuns: chr11BlueRuns, blueDots: chr11BlueDots },
];

const FONT = '"Liberation Sans", Arial, sans-serif';
const W = 1376;
const H = 322;
const RED = '#ff0000';
const BLUE = '#0000ff';

type XY = { x: number; y: number | null };

function segLine(segs: Seg[], y: number): XY[] {
  const out: XY[] = [];
  segs.forEach(([a, b]) => {
    out.push({ x: a, y }, { x: b, y }, { x: b, y: null });
  });
  return out;
}

function runLine(runs: Run[]): XY[] {
  const out: XY[] = [];
  runs.forEach(([a, b, v]) => {
    out.push({ x: a, y: v }, { x: b, y: v }, { x: b, y: null });
  });
  return out;
}

const dots = (pts: Pt[]): XY[] => pts.map(([x, y]) => ({ x, y }));

// Frame top edge, minor tick marks and the panel title
const decorations = {
  id: 'decorations',
  afterDraw(chart: any) {
    const { ctx, chartArea, scales } = chart;
    const xs = scales.x;
    const ys = scales.y;
    ctx.save();
    ctx.strokeStyle = '#000';
    ctx.lineWidth = 1.5;
    ctx.beginPath();
    ctx.moveTo(chartArea.left, chartArea.top);
    ctx.lineTo(chartArea.right, chartArea.top);
    ctx.stroke();

    ctx.lineWidth = 1;
    ctx.beginPath();
    for (let v = 2.5; v < X_MAX; v += 2.5) {
      if (Math.abs(v % 10) < 1e-6) continue;
      const px = Math.round(xs.getPixelForValue(v)) + 0.5;
      ctx.moveTo(px, chartArea.bottom);
      ctx.lineTo(px, chartArea.bottom + 2.5);
    }
    for (let k = -8; k <= 57; k++) {
      if (k % 5 === 0) continue;
      const py = Math.round(ys.getPixelForValue(k / 100)) + 0.5;
      ctx.moveTo(chartArea.left, py);
      ctx.lineTo(chartArea.left - 2.5, py);
    }
    ctx.stroke();

    const title = chart.options.plugins.decorations.title;
    ctx.fillStyle = BLUE;
    ctx.font = `11px ${FONT}`;
    ctx.textAlign = 'center';
    ctx.textBaseline = 'middle';
    ctx.fillText(title, 694, 18);
    ctx.restore();
  },
};

function PanelChart({ panel }: { panel: Panel }) {
  const ref = useRef<HTMLCanvasElement | null>(null);

  useEffect(() => {
    if (!ref.current) return;
    const chart = new Chart(ref.current, {
      type: 'scatter',
      data: {
        datasets: [
          {
            data: panel.centromere.map(([x, y]) => ({ x, y })),
            showLine: true,
            borderColor: '#2f4fff',
            borderWidth: 1.3,
            pointRadius: 0,
            order: 0,
          } as any,
          {
            data: dots(panel.blueDots),
            backgroundColor: BLUE,
            borderWidth: 0,
            pointRadius: 2.2,
            order: 1,
          },
          {
            data: runLine(panel.blueRuns),
            showLine: true,
            spanGaps: false,
            borderColor: BLUE,
            borderWidth: 4.5,
            borderCapStyle: 'round',
            pointRadius: 0,
            order: 2,
          },
          {
            data: dots(panel.redDots),
            backgroundColor: RED,
            borderWidth: 0,
            pointRadius: 2.2,
            order: 3,
          },
          {
            data: runLine(panel.redRuns),
            showLine: true,
            spanGaps: false,
            borderColor: RED,
            borderWidth: 4.5,
            borderCapStyle: 'round',
            pointRadius: 0,
            order: 4,
          },
          {
            data: [{ x: 0, y: 0 }, { x: panel.length, y: 0 }],
            showLine: true,
            borderColor: '#333333',
            borderWidth: 1.3,
            borderDash: [3, 3],
            pointRadius: 0,
            order: 5,
          },
          {
            data: segLine(panel.bands, BAND_Y),
            showLine: true,
            spanGaps: false,
            borderColor: '#ffff00',
            borderWidth: 6.3,
            borderCapStyle: 'butt',
            pointRadius: 0,
            order: 6,
          },
        ] as any,
      },
      options: {
        animation: false,
        responsive: false,
        devicePixelRatio: 1,
        events: [],
        layout: { padding: { top: 34, right: 0, bottom: 0, left: 0 } },
        plugins: {
          legend: { display: false },
          tooltip: { enabled: false },
          title: { display: false },
          decorations: { title: panel.title },
        } as any,
        scales: {
          x: {
            type: 'linear',
            min: 0,
            max: X_MAX,
            afterBuildTicks: (s: any) => {
              s.ticks = X_TICKS.map((value) => ({ value }));
            },
            afterFit: (s: any) => {
              s.height = 33.5;
            },
            grid: { drawOnChartArea: false, drawTicks: true, tickLength: 4, color: '#000', lineWidth: 1 },
            border: { display: true, color: '#000', width: 1.5 },
            ticks: {
              color: '#000',
              font: { family: FONT, size: 11 },
              padding: 2,
              maxRotation: 0,
              autoSkip: false,
              callback: (v: any) => String(v),
            },
            title: {
              display: true,
              text: 'Position [Mb]',
              color: '#000',
              font: { family: FONT, size: 11, lineHeight: 1 },
              padding: { top: 0, bottom: 0 },
            },
          },
          y: {
            type: 'linear',
            min: Y_MIN,
            max: Y_MAX,
            afterBuildTicks: (s: any) => {
              s.ticks = Y_TICKS.map((value) => ({ value }));
            },
            afterFit: (s: any) => {
              s.width = 62.5;
            },
            grid: { drawOnChartArea: false, drawTicks: true, tickLength: 4, color: '#000', lineWidth: 1 },
            border: { display: true, color: '#000', width: 1.5 },
            ticks: {
              color: '#000',
              font: { family: FONT, size: 11 },
              padding: 3,
              autoSkip: false,
              callback: (v: any) => Number(v).toFixed(2),
            },
            title: {
              display: true,
              text: 'Intensity',
              color: '#000',
              font: { family: FONT, size: 11 },
              padding: { top: 10, bottom: 0 },
            },
          },
        },
      } as any,
      plugins: [decorations],
    });
    return () => chart.destroy();
  }, [panel]);

  return <canvas ref={ref} width={W} height={H} style={{ display: 'block', width: W, height: H }} />;
}

export default function App() {
  return (
    <div style={{ position: 'absolute', left: 0, top: 0, width: W, height: 1936, background: '#fff' }}>
      {panels.map((p) => (
        <PanelChart key={p.title} panel={p} />
      ))}
    </div>
  );
}
